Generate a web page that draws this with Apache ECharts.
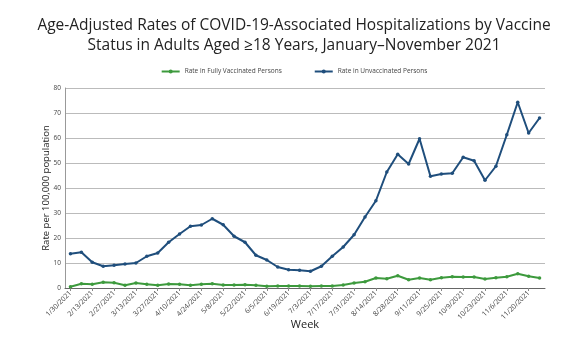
<!DOCTYPE html>
<html><head><meta charset="utf-8">
<script src="https://cdn.jsdelivr.net/npm/echarts@6/dist/echarts.min.js"></script>
<style>html,body{margin:0;padding:0;background:#fff}#c{width:588px;height:337px}</style>
</head><body><div id="c"></div>
<script>
const weeks = ["1/30/2021","2/6/2021","2/13/2021","2/20/2021","2/27/2021","3/6/2021","3/13/2021","3/20/2021","3/27/2021","4/3/2021","4/10/2021","4/17/2021","4/24/2021","5/1/2021","5/8/2021","5/15/2021","5/22/2021","5/29/2021","6/5/2021","6/12/2021","6/19/2021","6/26/2021","7/3/2021","7/10/2021","7/17/2021","7/24/2021","7/31/2021","8/7/2021","8/14/2021","8/21/2021","8/28/2021","9/4/2021","9/11/2021","9/18/2021","9/25/2021","10/2/2021","10/9/2021","10/16/2021","10/23/2021","10/30/2021","11/6/2021","11/13/2021","11/20/2021","11/27/2021"];
const vaccinated = [0.5,1.7,1.5,2.3,2.1,1.1,2.0,1.5,1.1,1.6,1.5,1.1,1.5,1.7,1.2,1.2,1.3,1.1,0.7,0.8,0.8,0.8,0.7,0.8,0.8,1.2,2.0,2.5,4.0,3.7,4.9,3.3,4.0,3.3,4.1,4.5,4.4,4.4,3.6,4.1,4.5,5.7,4.7,4.0];
const unvaccinated = [13.7,14.3,10.3,8.7,9.1,9.6,10.0,12.7,14.0,18.3,21.6,24.7,25.2,27.7,25.3,20.7,18.3,13.1,11.2,8.4,7.3,7.1,6.7,8.7,12.7,16.4,21.3,28.4,34.9,46.4,53.5,49.6,59.7,44.7,45.6,45.9,52.3,50.9,43.1,48.7,61.3,74.3,62.0,68.0];
const titleText = "Age-Adjusted Rates of COVID-19-Associated Hospitalizations by Vaccine\nStatus in Adults Aged \u226518 Years, January\u2013November 2021";
const seriesNames = ["Rate in Fully Vaccinated Persons","Rate in Unvaccinated Persons"];
const colors = ["#3d9a3d","#1f4e7c"];

const chart = echarts.init(document.getElementById('c'), null, {renderer:'canvas'});
chart.setOption({
  animation:false,
  color: colors,
  title:{text:titleText, left:'center', top:11, textStyle:{fontFamily:'Open Sans', fontWeight:'normal', fontSize:15.5, color:'#222', lineHeight:20}},
  legend:{top:63, left:'center', itemGap:32, itemWidth:18, itemHeight:5, textStyle:{fontFamily:'Open Sans', fontSize:6.5, color:'#444'},
    data: seriesNames},
  grid:{left:65, right:43, top:88, bottom:49, outerBoundsMode:'none', containLabel:false},
  xAxis:{type:'category', data:weeks, boundaryGap:true,
    name:'Week', nameLocation:'middle', nameGap:31, nameMoveOverlap:false, nameTextStyle:{fontFamily:'Open Sans', fontSize:11, color:'#222'},
    axisLine:{lineStyle:{color:'#666'}}, axisTick:{show:true, alignWithLabel:true, interval:1, length:3, lineStyle:{color:'#888'}},
    axisLabel:{interval:1, rotate:45, fontFamily:'Open Sans', fontSize:7, color:'#444', margin:4}},
  yAxis:{type:'value', min:0, max:80, interval:10,
    name:'Rate per 100,000 population', nameLocation:'middle', nameGap:14, nameMoveOverlap:false, nameTextStyle:{fontFamily:'Open Sans', fontSize:9.5, color:'#222'},
    axisLine:{show:true, lineStyle:{color:'#999'}}, axisTick:{show:false},
    axisLabel:{fontFamily:'Open Sans', fontSize:6.5, color:'#444', margin:4},
    splitLine:{lineStyle:{color:'#bbb'}}},
  series:[
    {name:seriesNames[0], type:'line', data:vaccinated, symbol:'circle', symbolSize:3.5, lineStyle:{width:2}, itemStyle:{color:colors[0]}},
    {name:seriesNames[1], type:'line', data:unvaccinated, symbol:'circle', symbolSize:3.5, lineStyle:{width:2}, itemStyle:{color:colors[1]}}
  ]
});
</script></body></html>
